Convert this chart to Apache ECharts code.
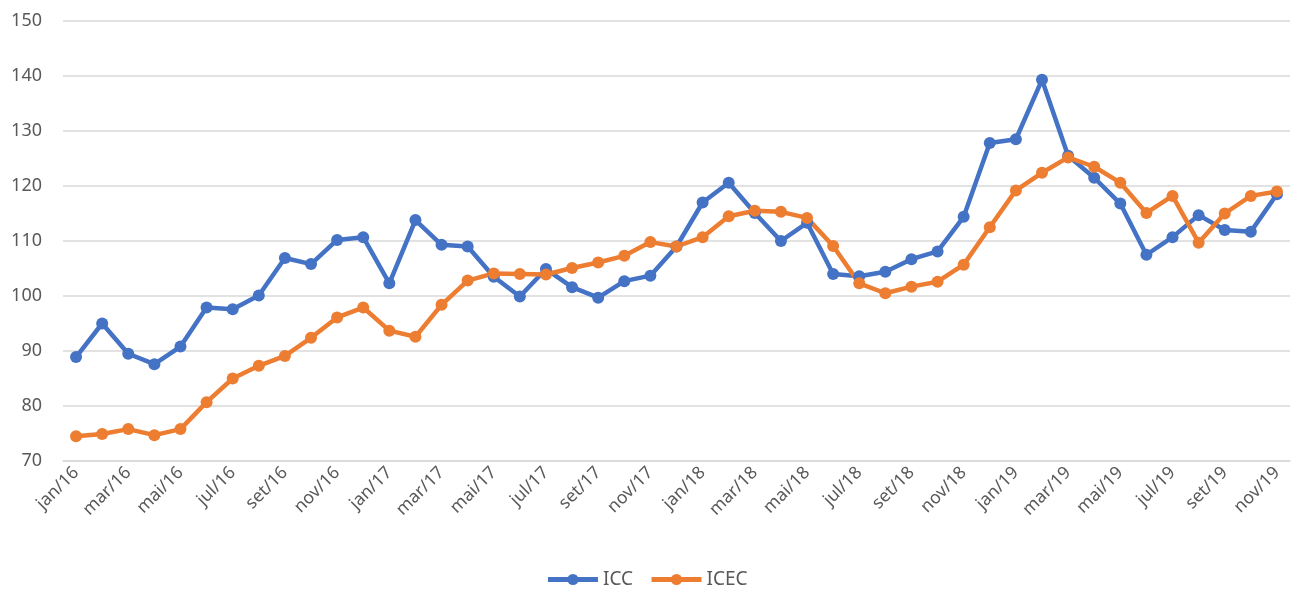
<!DOCTYPE html>
<html>
<head>
<meta charset="utf-8">
<script src="https://cdn.jsdelivr.net/npm/echarts@6/dist/echarts.min.js"></script>
<style>
  html, body { margin: 0; padding: 0; background: #fff; }
  #chart { width: 1293px; height: 592px; }
</style>
</head>
<body>
<div id="chart"></div>
<script>
// meses jan/16 .. nov/19
var months = ['jan', 'fev', 'mar', 'abr', 'mai', 'jun', 'jul', 'ago', 'set', 'out', 'nov', 'dez'];
var years = ['16', '17', '18', '19'];
var categories = [];
years.forEach(function (y) {
  months.forEach(function (m) { categories.push(m + '/' + y); });
});
categories = categories.slice(0, 47);

var icc = [
  88.9, 95.0, 89.5, 87.6, 90.8, 97.9, 97.6, 100.1, 106.9, 105.8, 110.2, 110.7,
  102.3, 113.8, 109.3, 109.0, 103.5, 99.9, 104.9, 101.6, 99.7, 102.7, 103.7, 109.0,
  117.0, 120.6, 115.1, 110.0, 113.3, 104.0, 103.6, 104.4, 106.7, 108.1, 114.4, 127.8,
  128.5, 139.3, 125.5, 121.5, 116.8, 107.5, 110.7, 114.7, 112.0, 111.7, 118.5
];
var icec = [
  74.5, 74.9, 75.8, 74.7, 75.8, 80.7, 85.0, 87.3, 89.1, 92.4, 96.1, 97.9,
  93.7, 92.6, 98.4, 102.8, 104.1, 104.0, 103.9, 105.1, 106.1, 107.3, 109.8, 109.0,
  110.7, 114.5, 115.5, 115.3, 114.2, 109.1, 102.3, 100.5, 101.7, 102.6, 105.7, 112.5,
  119.2, 122.4, 125.2, 123.5, 120.6, 115.1, 118.2, 109.7, 115.0, 118.2, 119.0
];

var chart = echarts.init(document.getElementById('chart'));
var font = 'Noto Sans';

var option = {
  animation: false,
  color: ['#4472C4', '#ED7D31'],
  grid: { left: 63, right: 3, top: 21, bottom: 131 },
  legend: {
    bottom: -2,
    left: 'center',
    itemWidth: 50,
    itemHeight: 14,
    itemGap: 16,
    lineStyle: { width: 5 },
    textStyle: { fontFamily: font, fontSize: 19, color: '#595959' },
    data: ['ICC', 'ICEC']
  },
  xAxis: {
    type: 'category',
    data: categories,
    boundaryGap: true,
    axisLine: { lineStyle: { color: '#d9d9d9', width: 1.5 } },
    axisTick: { interval: 1, length: 6, lineStyle: { color: '#d9d9d9', width: 1.5 } },
    axisLabel: {
      interval: 1,
      rotate: 45,
      margin: 9,
      fontFamily: font,
      fontSize: 17.5,
      color: '#595959'
    }
  },
  yAxis: {
    type: 'value',
    min: 70,
    max: 150,
    interval: 10,
    axisLine: { show: false },
    axisTick: { show: false },
    axisLabel: { margin: 21, fontFamily: font, fontSize: 18, color: '#595959' },
    splitLine: { lineStyle: { color: '#d9d9d9', width: 1.5 } }
  },
  series: [
    {
      name: 'ICC',
      type: 'line',
      data: icc,
      symbol: 'circle',
      symbolSize: 12,
      lineStyle: { width: 4.5 }
    },
    {
      name: 'ICEC',
      type: 'line',
      data: icec,
      symbol: 'circle',
      symbolSize: 12,
      lineStyle: { width: 4.5 }
    }
  ]
};

chart.setOption(option);
</script>
</body>
</html>
